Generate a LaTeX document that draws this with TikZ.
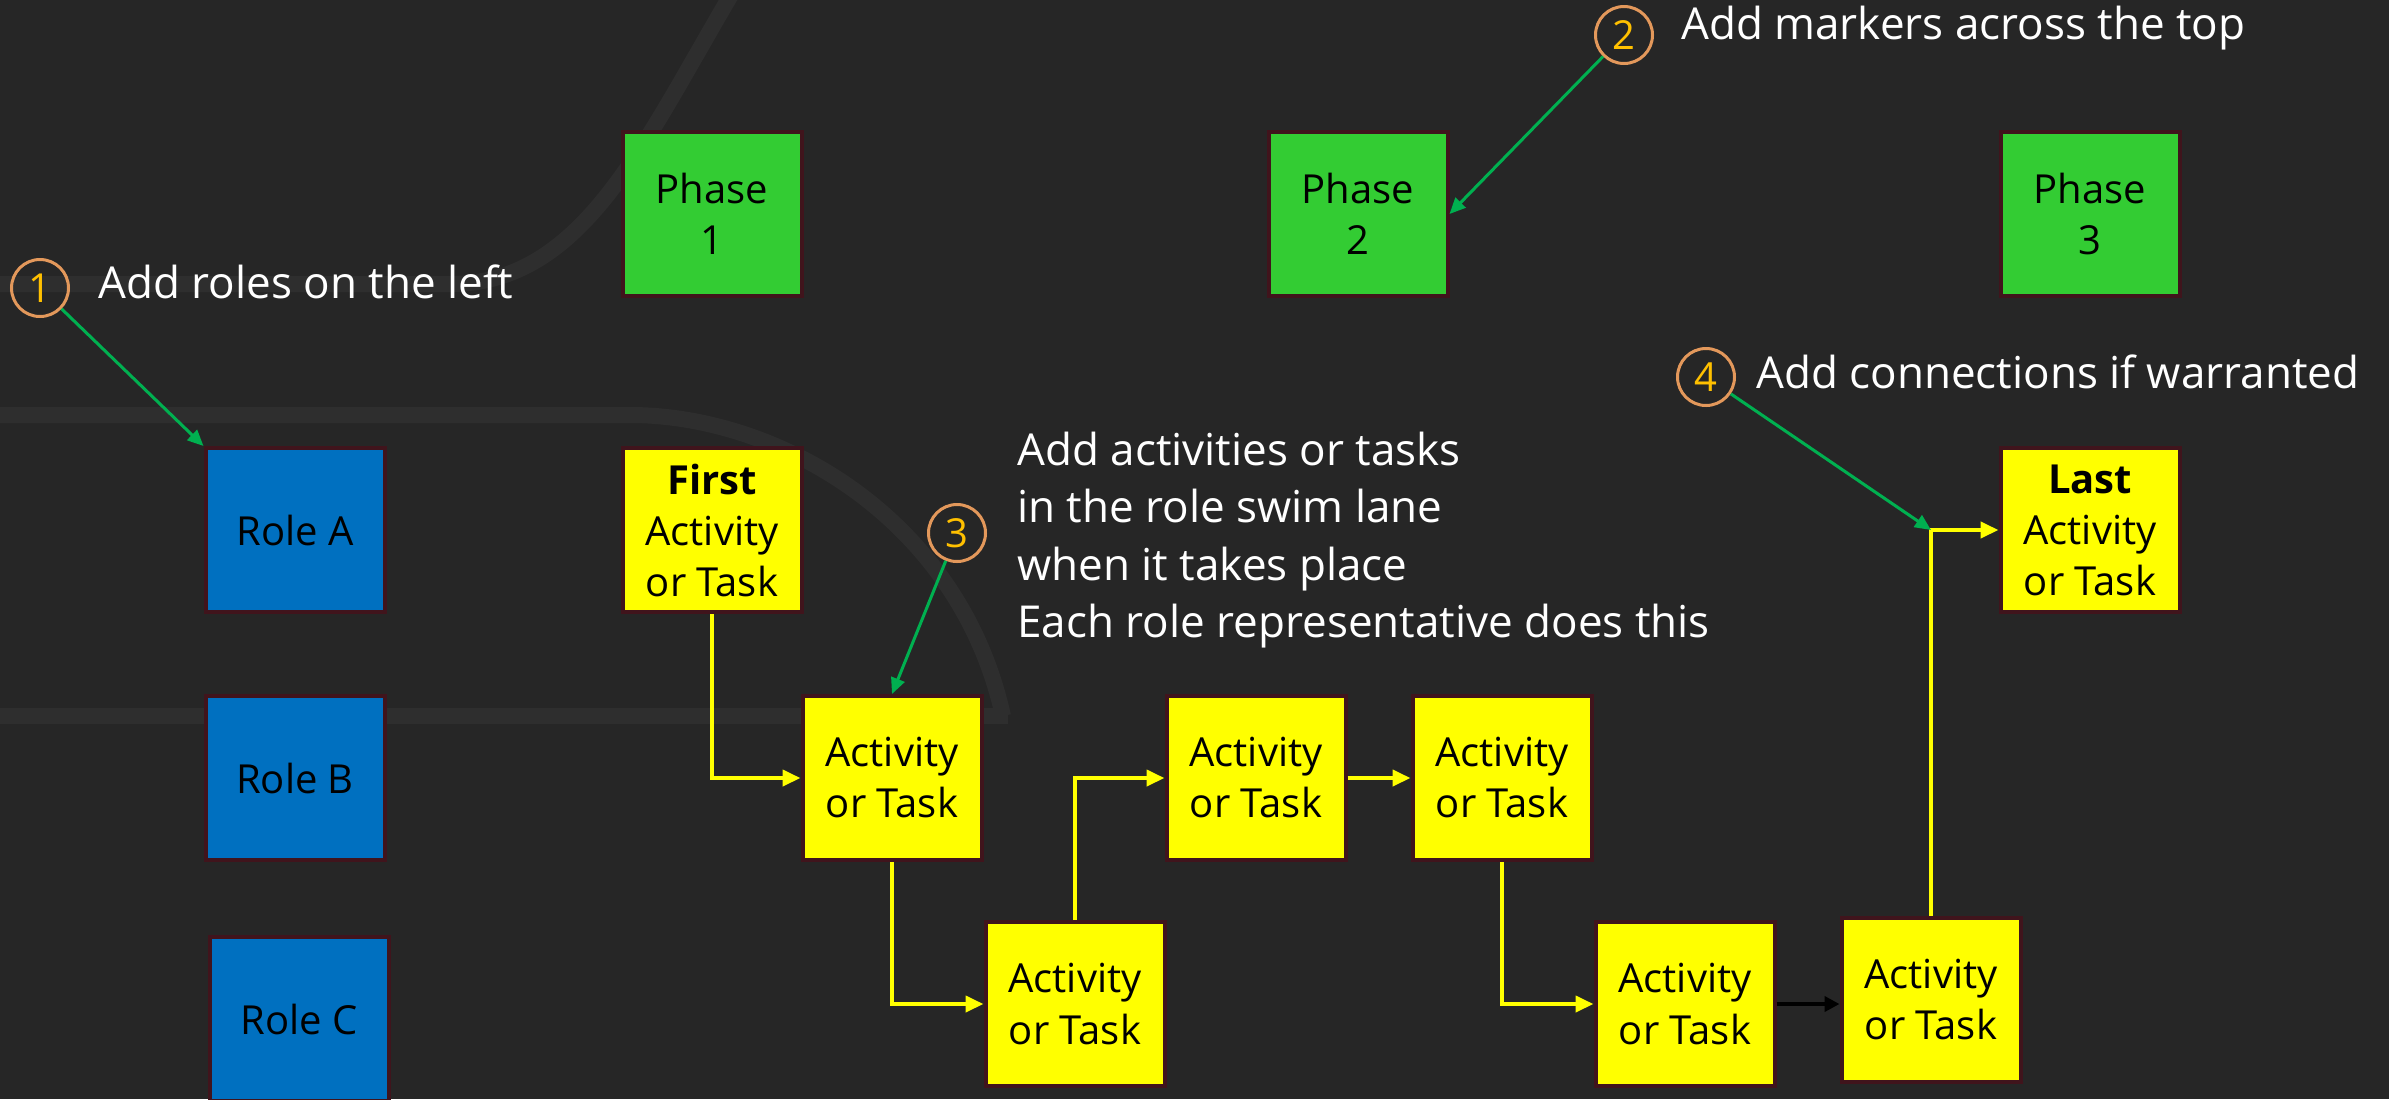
\documentclass[tikz,border=0pt]{standalone}
\usepackage{fontspec}
\setmainfont{Open Sans}
\usetikzlibrary{arrows.meta}

\definecolor{bg}{HTML}{262626}
\definecolor{band}{HTML}{2E2E2E}
\definecolor{rolefill}{HTML}{0070C0}
\definecolor{phasefill}{HTML}{33CC33}
\definecolor{taskfill}{HTML}{FFFF00}
\definecolor{edge}{HTML}{40141C}
\definecolor{callout}{HTML}{00B050}
\definecolor{ring}{HTML}{E3985B}
\definecolor{digit}{HTML}{FFC000}

\begin{document}
\begin{tikzpicture}[x=0.5pt,y=-0.5pt,
  box/.style={draw=edge, line width=2pt, minimum width=89.5pt, minimum height=82pt,
    inner sep=0pt, align=center, text=black, font=\fontsize{20}{25.5}\selectfont},
  rolebox/.style={box, fill=rolefill},
  phasebox/.style={box, fill=phasefill},
  taskbox/.style={box, fill=taskfill},
  flow/.style={draw=taskfill, line width=2pt, -{Triangle[length=9pt,width=8pt]}},
  handoff/.style={draw=black, line width=2pt, -{Triangle[length=7.5pt,width=7.5pt]}},
  pointer/.style={draw=callout, line width=1.5pt, -{Triangle[length=8pt,width=7pt]}},
  badge/.style={circle, draw=ring, line width=1.5pt, minimum size=28.5pt, inner sep=0pt,
    text=digit, font=\fontsize{20}{24}\selectfont},
  note/.style={anchor=base west, inner sep=0pt, text=white, font=\fontsize{22}{28.5}\selectfont}
]
\useasboundingbox (0,0) rectangle (2389,1099);
\fill[bg] (0,0) rectangle (2389,1099);

% faint decorative bands in the background
\begin{scope}[color=band, line width=8pt]
  \draw (-10,284) -- (450,284) .. controls (580,284) and (640,150) .. (728,0) -- (740,-20);
  \draw (-10,415) -- (630,415) .. controls (780,415) and (960,520) .. (1003,716);
  \draw (-10,716) -- (1008,716);
\end{scope}

% phase markers
\node[phasebox] (phase1) at (712,214) {Phase\\1};
\node[phasebox] (phase2) at (1358,214) {Phase\\2};
\node[phasebox] (phase3) at (2090,214) {Phase\\3};

% roles
\node[rolebox] (roleA) at (295,530) {Role A};
\node[rolebox] (roleB) at (295,778) {Role B};
\node[rolebox] (roleC) at (299,1019) {Role C};

% activities
\node[taskbox] (first) at (712,530) {\textbf{First}\\Activity\\or Task};
\node[taskbox] (b1) at (892,778) {Activity\\or Task};
\node[taskbox] (c1) at (1075,1004) {Activity\\or Task};
\node[taskbox] (b2) at (1256,778) {Activity\\or Task};
\node[taskbox] (b3) at (1502,778) {Activity\\or Task};
\node[taskbox] (c2) at (1685,1004) {Activity\\or Task};
\node[taskbox] (c3) at (1931,1000) {Activity\\or Task};
\node[taskbox] (last) at (2090,530) {\textbf{Last}\\Activity\\or Task};

% flow between activities
\draw[flow] (first.south) |- (b1.west);
\draw[flow] (b1.south) |- (c1.west);
\draw[flow] (c1.north) |- (b2.west);
\draw[flow] (b2.east) -- (b3.west);
\draw[flow] (b3.south) |- (c2.west);
\draw[handoff] (c2.east) -- (c2.east -| c3.west);
\coordinate (join) at (c3.north |- last.west);
\draw[flow] (c3.north) |- (last.west);

% numbered steps
\node[badge] (n1) at (40,288) {1};
\node[badge] (n2) at (1624,35) {2};
\node[badge] (n3) at (957,533) {3};
\node[badge] (n4) at (1706,377) {4};

\node[note] (t1) at (98,298) {Add roles on the left};
\node[note] (t2) at (1681,39) {Add markers across the top};
\node[note] (t3a) at (1017,465) {Add activities or tasks};
\node[note] (t3b) at (1017,522) {in the role swim lane};
\node[note] (t3c) at (1017,580) {when it takes place};
\node[note] (t3d) at (1017,637) {Each role representative does this};
\node[note] (t4) at (1756,388) {Add connections if warranted};

\draw[pointer] (n1) -- (roleA.north west);
\draw[pointer] (n2) -- (phase2.east);
\draw[pointer] (n3) -- (b1.north);
\draw[pointer] (n4) -- (join);
\end{tikzpicture}
\end{document}
